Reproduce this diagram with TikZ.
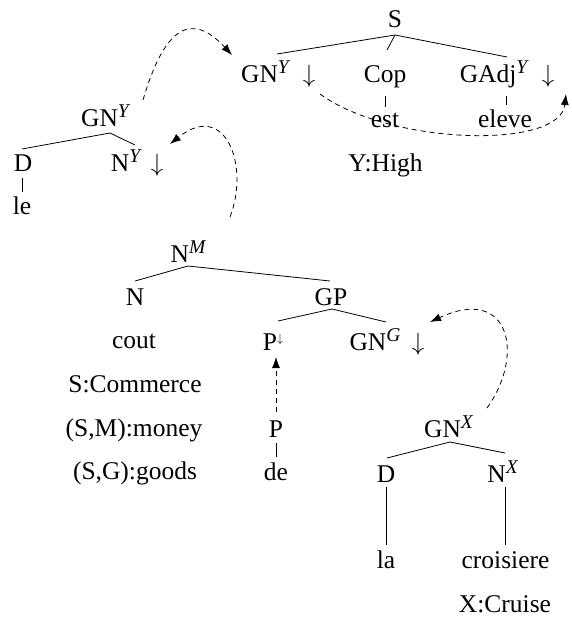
\documentclass[tikz,border=0pt]{standalone}
\usepackage{fontspec}
\setmainfont{Liberation Serif}
\usetikzlibrary{arrows.meta,calc}
\newcommand{\supi}[1]{\raisebox{9pt}{\fontsize{19.5}{19.5}\selectfont\itshape #1}}
\newcommand{\supar}{\raisebox{8pt}{\fontsize{13}{13}\selectfont$\downarrow$}}
\begin{document}
\begin{tikzpicture}[x=1pt,y=-1pt,
  font=\fontsize{25.5}{30}\selectfont,
  t/.style={inner sep=0pt,anchor=base},
  e/.style={line width=0.8pt},
  d/.style={line width=0.8pt,dash pattern=on 5pt off 4pt,-{Latex[length=11pt,width=8pt]}}]
\useasboundingbox (0,0) rectangle (571,617);
% top tree
\node[t] (S) at (395,28) {S};
\node[t] (gn1) at (265,83) {GN\supi{Y}};
\node[t] (dn1) at (309,83) {$\downarrow$};
\node[t] (cop) at (385,83) {Cop};
\node[t] (gadj) at (493.5,83) {GAdj\supi{Y}};
\node[t] (dn2) at (548,83) {$\downarrow$};
\node[t] (est) at (385,128) {est};
\node[t] (eleve) at (505,128) {eleve};
\node[t] (yhigh) at (385.5,172) {Y:High};
% left tree
\node[t] (gn2) at (105,127) {GN\supi{Y}};
\node[t] (d1) at (23,172) {D};
\node[t] (ny) at (125.5,172) {N\supi{Y}};
\node[t] (dn3) at (157,172) {$\downarrow$};
\node[t] (le) at (22,215) {le};
% middle tree
\node[t] (nm) at (188,262) {N\supi{M}};
\node[t] (n) at (135,305) {N};
\node[t] (gp) at (331,305) {GP};
\node[t] (cout) at (134,348) {cout};
\node[t] (com) at (135,392) {S:Commerce};
\node[t] (money) at (134,436) {(S,M):money};
\node[t] (goods) at (135,479) {(S,G):goods};
\node[t] (pd) at (273,350) {P\supar};
\node[t] (gng) at (375,350) {GN\supi{G}};
\node[t] (dn4) at (418,350) {$\downarrow$};
% P tree
\node[t] (p) at (276,437) {P};
\node[t] (de) at (276,480) {de};
% GN X tree
\node[t] (gnx) at (448.5,437) {GN\supi{X}};
\node[t] (d2) at (386,482) {D};
\node[t] (nx) at (502.5,482) {N\supi{X}};
\node[t] (la) at (386,568) {la};
\node[t] (cro) at (505.5,568) {croisiere};
\node[t] (xc) at (505,612) {X:Cruise};
% edges
\draw[e] ($(S.base)+(0,7)$) -- ($(gn1.base)+(12,-29)$);
\draw[e] ($(S.base)+(0,7)$) -- ($(cop.base)+(2,-33)$);
\draw[e] ($(S.base)+(0,7)$) -- ($(gadj.base)+(13.5,-26)$);
\draw[e] ($(cop.base)+(0,13)$) -- ($(est.base)+(0,-21)$);
\draw[e] ($(gadj.base)+(12.5,13)$) -- ($(eleve.base)+(1,-23)$);
\draw[e] ($(gn2.base)+(5,6)$) -- ($(d1.base)+(-1,-23)$);
\draw[e] ($(gn2.base)+(5,6)$) -- ($(ny.base)+(9.5,-27)$);
\draw[e] ($(d1.base)+(-1,6)$) -- ($(le.base)+(0,-23)$);
\draw[e] ($(nm.base)+(0,4)$) -- ($(n.base)+(0,-24)$);
\draw[e] ($(nm.base)+(0,4)$) -- ($(gp.base)+(-1,-24)$);
\draw[e] ($(gp.base)+(1,4)$) -- ($(pd.base)+(5,-29)$);
\draw[e] ($(gp.base)+(1,4)$) -- ($(gng.base)+(11,-28)$);
\draw[e] ($(p.base)+(0,6)$) -- ($(de.base)+(0,-23)$);
\draw[e] ($(gnx.base)+(1.5,5)$) -- ($(d2.base)+(1,-24)$);
\draw[e] ($(gnx.base)+(1.5,5)$) -- ($(nx.base)+(2.5,-29)$);
\draw[e] ($(d2.base)+(0,5)$) -- ($(la.base)+(0,-23)$);
\draw[e] ($(nx.base)+(2.5,5)$) -- ($(cro.base)+(-0.5,-23)$);
% dashed arrows
\draw[d] ($(gn2.base)+(38,-27)$) .. controls (165,25) and (192,12) .. ($(gn1.base)+(-33,-28)$);
\draw[d] ($(dn1.base)+(11,11)$) .. controls (390,145) and (560,150) .. ($(dn2.base)+(18,11)$);
\draw[d] ($(nm.base)+(42,-45)$) .. controls (250,165) and (225,100) .. ($(dn3.base)+(13,-28)$);
\draw[d] ($(gnx.base)+(38.5,-29)$) .. controls (525,355) and (510,285) .. ($(dn4.base)+(12,-28)$);
\draw[d] ($(p.base)+(0,-25)$) -- ($(pd.base)+(3,7)$);
\end{tikzpicture}
\end{document}
